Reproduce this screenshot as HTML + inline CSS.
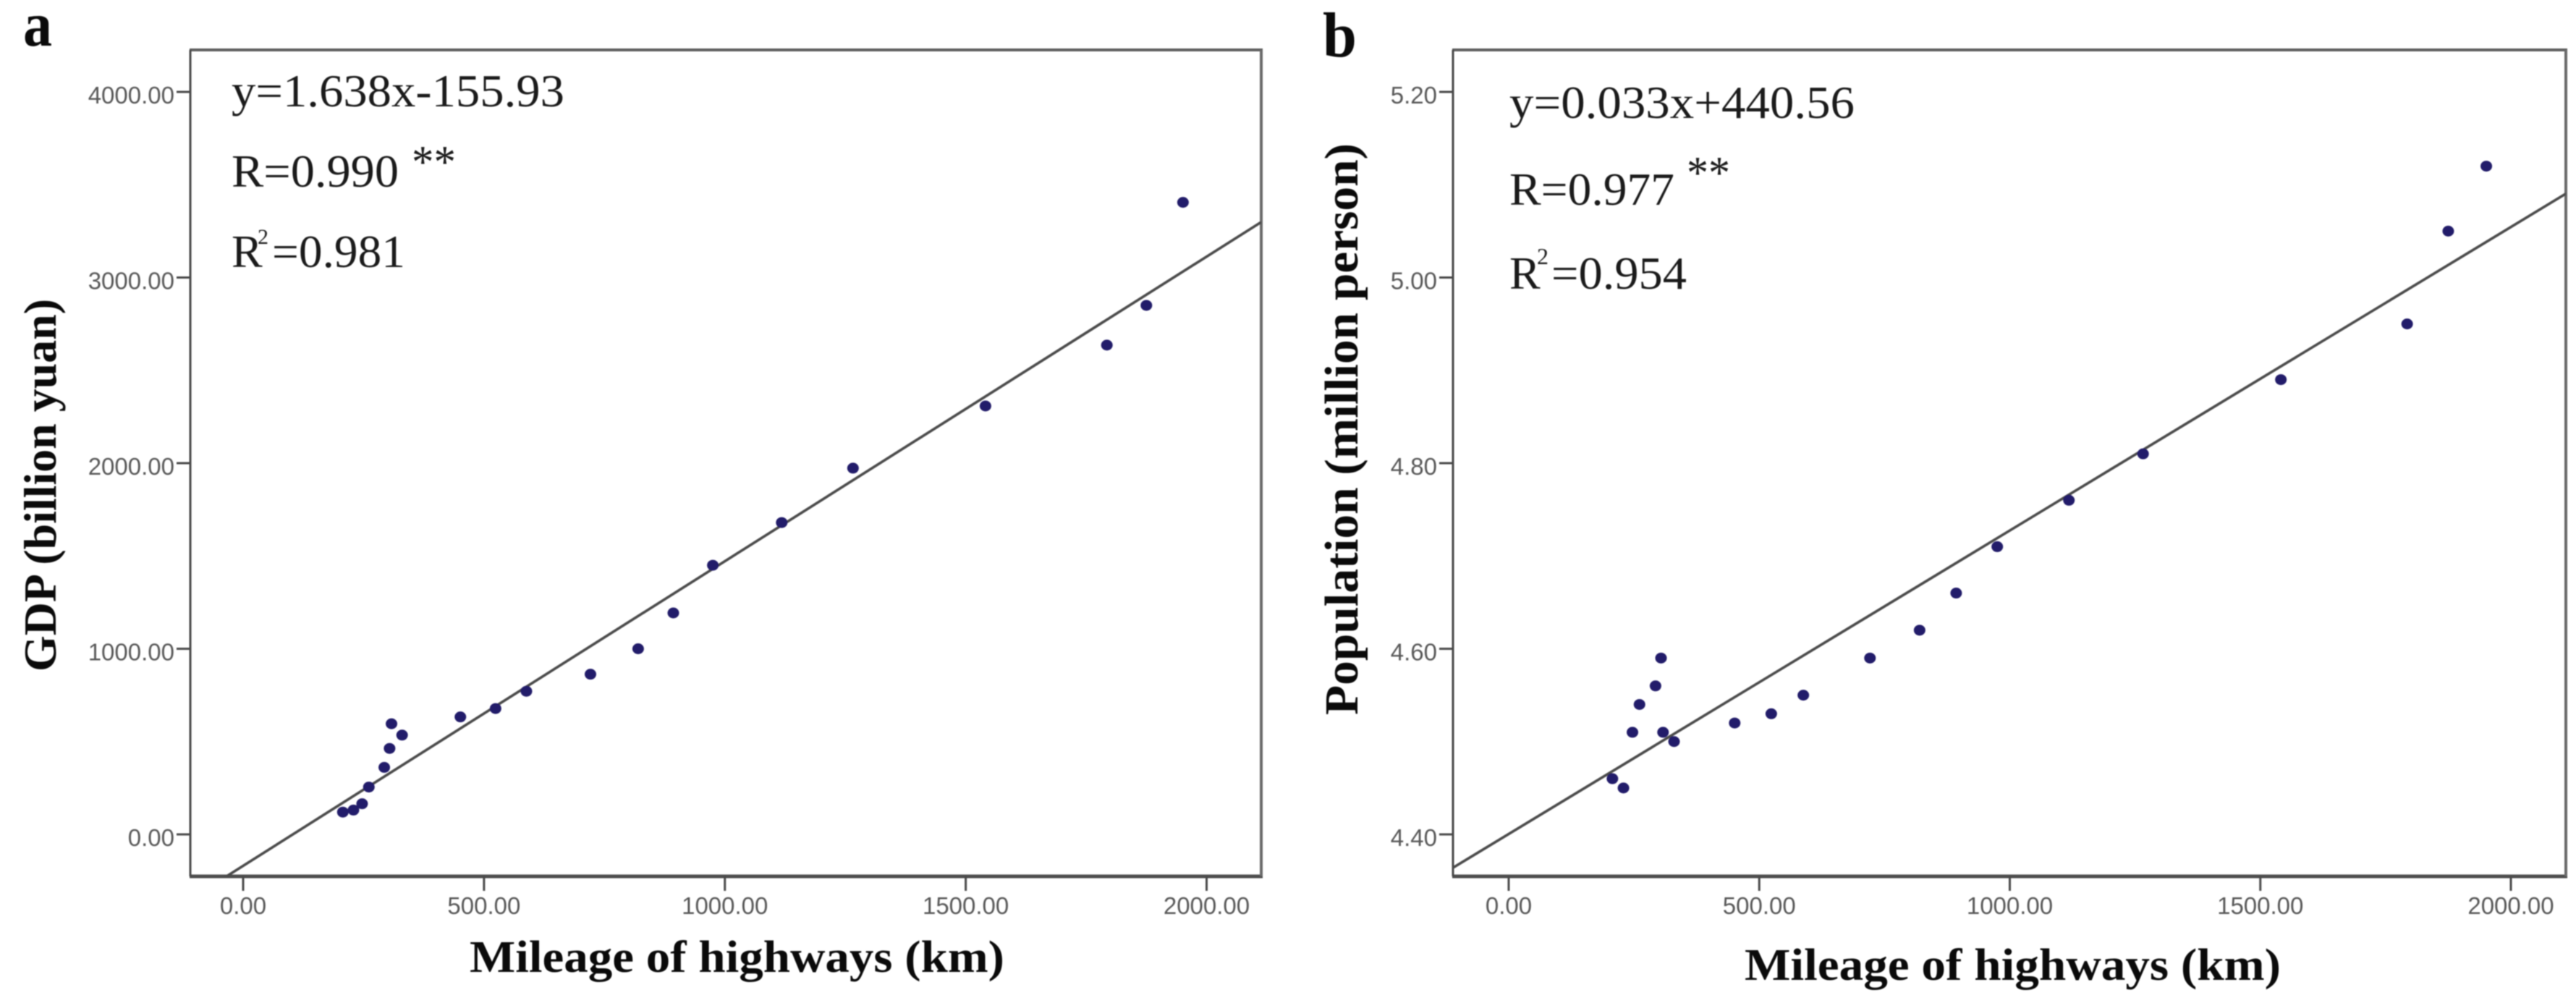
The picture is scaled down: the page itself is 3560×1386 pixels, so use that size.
<!DOCTYPE html>
<html lang="en">
<head>
<meta charset="utf-8">
<title>Mileage of highways vs GDP and population</title>
<style>
html,body{margin:0;padding:0;background:#fff;width:3560px;height:1386px;overflow:hidden}
svg{display:block;filter:blur(0.9px)}
.serif{font-family:"Liberation Serif",serif;fill:#1a1a1a}
.bold{font-family:"Liberation Serif",serif;font-weight:bold;fill:#0a0a0a}
.tick{font-family:"Liberation Sans",sans-serif;font-size:33px;fill:#585858}
</style>
</head>
<body>
<svg id="fig" xmlns="http://www.w3.org/2000/svg" width="3560" height="1386" viewBox="0 0 3560 1386">
  <rect x="0" y="0" width="3560" height="1386" fill="#ffffff"/>
  <defs>
    <clipPath id="clipA"><rect x="263" y="69" width="1480" height="1142"/></clipPath>
    <clipPath id="clipB"><rect x="2008" y="69" width="1538" height="1142"/></clipPath>
  </defs>

  <g id="panelA">
    <text class="bold" x="32" y="63" font-size="88" textLength="40" lengthAdjust="spacingAndGlyphs">a</text>
    <text class="bold" transform="translate(77 928) rotate(-90)" font-size="64" textLength="515" lengthAdjust="spacingAndGlyphs">GDP (billion yuan)</text>
    <text class="bold" x="649" y="1343" font-size="62" textLength="739" lengthAdjust="spacingAndGlyphs">Mileage of highways (km)</text>
    <text class="serif" x="320" y="147" font-size="64" textLength="460" lengthAdjust="spacingAndGlyphs">y=1.638x-155.93</text>
    <text class="serif" x="320" y="258" font-size="64" textLength="231" lengthAdjust="spacingAndGlyphs">R=0.990</text>
    <text class="serif" x="569" y="245" font-size="64" textLength="61" lengthAdjust="spacingAndGlyphs">**</text>
    <text class="serif" x="320" y="369" font-size="64">R</text>
    <text class="serif" x="356" y="337" font-size="30">2</text>
    <text class="serif" x="376" y="369" font-size="64" textLength="184" lengthAdjust="spacingAndGlyphs">=0.981</text>
  </g>

  <g id="panelB">
    <text class="bold" x="1828" y="78" font-size="88" textLength="47" lengthAdjust="spacingAndGlyphs">b</text>
    <text class="bold" transform="translate(1876 988) rotate(-90)" font-size="66" textLength="790" lengthAdjust="spacingAndGlyphs">Population (million person)</text>
    <text class="bold" x="2411" y="1354" font-size="62" textLength="741" lengthAdjust="spacingAndGlyphs">Mileage of highways (km)</text>
    <text class="serif" x="2086" y="163" font-size="64" textLength="477" lengthAdjust="spacingAndGlyphs">y=0.033x+440.56</text>
    <text class="serif" x="2086" y="283" font-size="64" textLength="228" lengthAdjust="spacingAndGlyphs">R=0.977</text>
    <text class="serif" x="2331" y="260" font-size="64" textLength="60" lengthAdjust="spacingAndGlyphs">**</text>
    <text class="serif" x="2086" y="399" font-size="64">R</text>
    <text class="serif" x="2124" y="365" font-size="32">2</text>
    <text class="serif" x="2144" y="399" font-size="64" textLength="187" lengthAdjust="spacingAndGlyphs">=0.954</text>
  </g>
</svg>

<script>
const mileage = [207,229,247,261,293,304,308,330,451,524,588,721,820,893,975,1118,1266,1541,1793,1875,1951];
const gdp = [120,131,165,255,361,463,596,535,633,678,771,863,1000,1193,1450,1680,1973,2308,2636,2850,3405];
const population = [4.46,4.45,4.51,4.54,4.56,4.59,4.51,4.50,4.52,4.53,4.55,4.59,4.62,4.66,4.71,4.76,4.81,4.89,4.95,5.05,5.12];
const mileageTicks = [0,500,1000,1500,2000];
const gdpTicks = [0,1000,2000,3000,4000];
const populationTicks = [4.4,4.6,4.8,5.0,5.2];
const gdpFit = [1.641,-169.4];
const populationFit = [0.000327,4.4004];

const SVG_NS = 'http://www.w3.org/2000/svg';

function linear(d0, d1, r0, r1) {
  return function (v) { return r0 + (v - d0) * (r1 - r0) / (d1 - d0); };
}

function make(parent, tag, attrs) {
  const el = document.createElementNS(SVG_NS, tag);
  for (const k in attrs) el.setAttribute(k, attrs[k]);
  parent.appendChild(el);
  return el;
}

function drawPanel(parent, cfg) {
  const x = linear(0, 2000, cfg.x0, cfg.x2000);
  const y = linear(cfg.yTicks[0], cfg.yTicks[cfg.yTicks.length - 1], 1153, 127);
  const f = cfg.frame;

  const frameTop = make(parent, 'line', { x1: f.l - 1, y1: f.t, x2: f.r + 2, y2: f.t, stroke: '#5f5f5f', 'stroke-width': 4 });
  
  

  const frameBottom = make(parent, 'line', { x1: f.l - 1, y1: f.b, x2: f.r + 2, y2: f.b, stroke: '#4d4d4d', 'stroke-width': 5 });
  
  

  const frameLeft = make(parent, 'line', { x1: f.l, y1: f.t, x2: f.l, y2: f.b, stroke: '#484848', 'stroke-width': 3 });
  
  

  const frameRight = make(parent, 'line', { x1: f.r, y1: f.t, x2: f.r, y2: f.b, stroke: '#6a6a6a', 'stroke-width': 4 });
  
  

  mileageTicks.forEach(function (v) {
    const tick = make(parent, 'line', { x1: x(v), y1: f.b, x2: x(v), y2: f.b + 20, stroke: '#4a4a4a', 'stroke-width': 3 });
    
    
    const label = make(parent, 'text', { x: x(v), y: 1263, 'text-anchor': 'middle', class: 'tick' });
    
    
    label.textContent = v.toFixed(2);
  });

  cfg.yTicks.forEach(function (v) {
    const tick = make(parent, 'line', { x1: f.l - 19, y1: y(v), x2: f.l, y2: y(v), stroke: '#4a4a4a', 'stroke-width': 3 });
    
    
    const label = make(parent, 'text', { x: f.l - 22, y: y(v) + 16, 'text-anchor': 'end', class: 'tick' });
    
    
    label.textContent = v.toFixed(2);
  });

  const xLo = linear(cfg.x0, cfg.x2000, 0, 2000)(f.l);
  const xHi = linear(cfg.x0, cfg.x2000, 0, 2000)(f.r);
  const fit = make(parent, 'line', {
    x1: f.l, y1: y(cfg.fit[0] * xLo + cfg.fit[1]),
    x2: f.r, y2: y(cfg.fit[0] * xHi + cfg.fit[1]),
    stroke: '#4a4a4a', 'stroke-width': 3.6, 'clip-path': 'url(#' + cfg.clip + ')'
  });
  
  

  cfg.values.forEach(function (v, i) {
    const pt = make(parent, 'ellipse', { cx: x(mileage[i]), cy: y(v), rx: 8, ry: 7.5, fill: '#221c6a' });
    
    
  });
}

drawPanel(document.getElementById('panelA'), {
  x0: 336, x2000: 1667.5,
  frame: { l: 263, t: 69, r: 1743, b: 1211 },
  yTicks: gdpTicks, values: gdp, fit: gdpFit, clip: 'clipA'
});
drawPanel(document.getElementById('panelB'), {
  x0: 2085, x2000: 3470,
  frame: { l: 2008, t: 69, r: 3546, b: 1211 },
  yTicks: populationTicks, values: population, fit: populationFit, clip: 'clipB'
});
</script>
</body>
</html>
